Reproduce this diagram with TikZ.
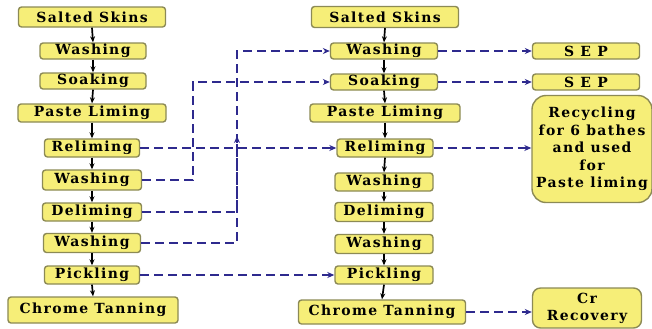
\documentclass[tikz,border=0pt]{standalone}
\usepackage{fontspec}
\setmainfont{DejaVu Serif}[LetterSpace=10]
\usetikzlibrary{arrows.meta}
\definecolor{boxfill}{HTML}{F6EE78}
\definecolor{boxline}{HTML}{8C8A55}
\definecolor{flow}{HTML}{2E2A8E}
\tikzset{
  stage/.style={draw=boxline, line width=1.4pt, fill=boxfill, rounded corners=3bp,
    inner sep=0pt, font=\bfseries\fontsize{14}{16}\selectfont, align=center},
  flowarrow/.style={-{Stealth[length=6bp,width=5bp]}, line width=1.7pt, black},
  dline/.style={flow, line width=2.8pt, dash pattern=on 9bp off 5bp,
    -{Stealth[length=7bp,width=6bp]}},
}
\begin{document}
\begin{tikzpicture}[x=1bp, y=-1bp]
\useasboundingbox (0,0) rectangle (652,328);

% left column: full process
\node[stage, minimum width=147bp, minimum height=20bp] (L1) at (92,17) {Salted Skins};
\node[stage, minimum width=106bp, minimum height=16bp] (L2) at (93,51) {Washing};
\node[stage, minimum width=106bp, minimum height=16bp] (L3) at (93,81) {Soaking};
\node[stage, minimum width=148bp, minimum height=18bp] (L4) at (92,113) {Paste Liming};
\node[stage, minimum width=95bp, minimum height=18bp] (L5) at (92,148) {Reliming};
\node[stage, minimum width=99bp, minimum height=20bp] (L6) at (92,180) {Washing};
\node[stage, minimum width=99bp, minimum height=18bp] (L7) at (92,212) {Deliming};
\node[stage, minimum width=97bp, minimum height=19bp] (L8) at (92,243) {Washing};
\node[stage, minimum width=95bp, minimum height=18bp] (L9) at (92,275) {Pickling};
\node[stage, minimum width=170bp, minimum height=26bp] (L10) at (93,310) {Chrome Tanning};

% middle column: process with recycling
\node[stage, minimum width=147bp, minimum height=21bp] (M1) at (385,17) {Salted Skins};
\node[stage, minimum width=107bp, minimum height=16bp] (M2) at (384,51) {Washing};
\node[stage, minimum width=107bp, minimum height=16bp] (M3) at (384,82) {Soaking};
\node[stage, minimum width=150bp, minimum height=18bp] (M4) at (385,113) {Paste Liming};
\node[stage, minimum width=96bp, minimum height=18bp] (M5) at (385,148) {Reliming};
\node[stage, minimum width=98bp, minimum height=18bp] (M6) at (384,182) {Washing};
\node[stage, minimum width=98bp, minimum height=19bp] (M7) at (384,212) {Deliming};
\node[stage, minimum width=98bp, minimum height=19bp] (M8) at (384,244) {Washing};
\node[stage, minimum width=98bp, minimum height=18bp] (M9) at (384,275) {Pickling};
\node[stage, minimum width=167bp, minimum height=24bp] (M10) at (382,312) {Chrome Tanning};

% right column: outputs
\node[stage, minimum width=107bp, minimum height=16bp] (S1) at (586,51) {S E P};
\node[stage, minimum width=107bp, minimum height=16bp] (S2) at (586,82) {S E P};
\node[stage, rounded corners=14bp, minimum width=120bp, minimum height=107bp,
  font=\bfseries\fontsize{14}{17.5}\selectfont] (R) at (592,149)
  {Recycling\\for 6 bathes\\and used\\for\\Paste liming};
\node[stage, rounded corners=8bp, minimum width=109bp, minimum height=40bp,
  font=\bfseries\fontsize{14}{17}\selectfont] (C) at (587,308) {Cr\\Recovery};

% process arrows
\foreach \a/\b in {L1/L2,L2/L3,L3/L4,L4/L5,L5/L6,L6/L7,L7/L8,L8/L9,L9/L10,
                   M1/M2,M2/M3,M3/M4,M4/M5,M5/M6,M6/M7,M7/M8,M8/M9,M9/M10}
  \draw[flowarrow] (\a.south) -- (\b.north);

% bath reuse lines
\coordinate (ja) at (193,0);
\coordinate (jb) at (237,0);
\coordinate (jc) at (237,136);
\draw[dline] (L5.east) -- (M5.west);
\draw[dline] (L6.east) -- (L6.east -| ja) |- (M3.west);
\draw[dline] (L8.east) -- (L8.east -| jb) |- (M2.west);
\draw[dline] (L7.east) -| (jc);
\draw[dline] (L9.east) -- (M9.west);

% outputs
\draw[dline] (M2.east) -- (S1.west);
\draw[dline] (M3.east) -- (S2.west);
\draw[dline] (M5.east) -- (R.west |- M5.east);
\draw[dline] (M10.east) -- (C.west |- M10.east);
\end{tikzpicture}
\end{document}
